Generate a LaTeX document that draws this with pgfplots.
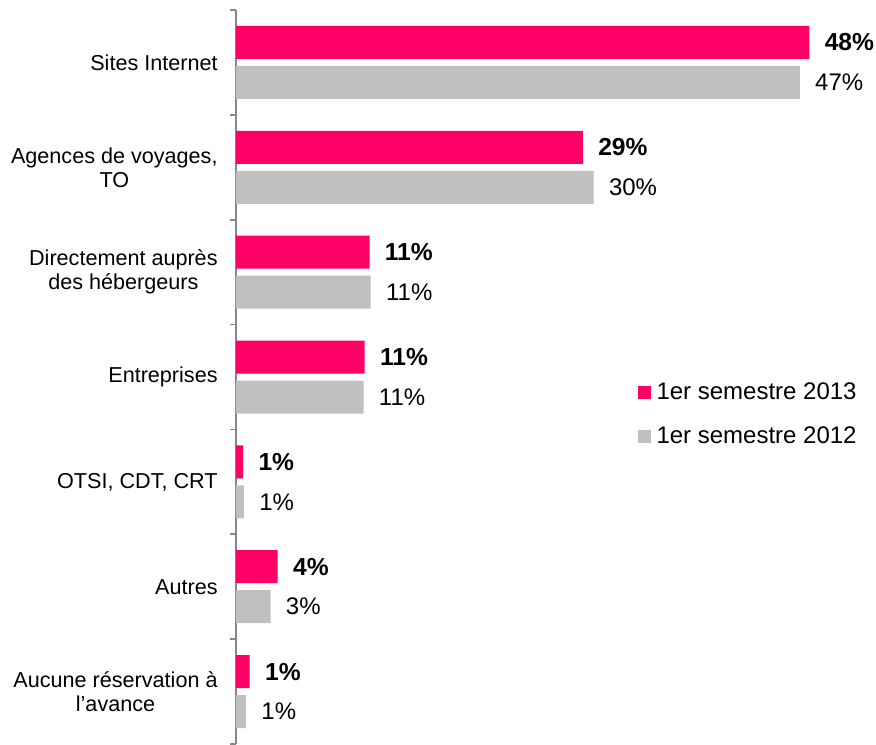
\documentclass[border=0pt]{standalone}
\usepackage{fontspec}
\setmainfont{Liberation Sans}
\usepackage{pgfplots}
\pgfplotsset{compat=1.18}
\definecolor{pinkbar}{HTML}{FF0066}
\definecolor{graybar}{HTML}{C0C0C0}
\definecolor{axisgray}{HTML}{868686}

\begin{document}
\begin{tikzpicture}
\begin{axis}[
  scale only axis, width=298pt, height=367pt,
  xbar, bar width=16.5pt,
  xmin=0, xmax=50, ymin=0.5, ymax=7.5,
  clip=false,
  hide x axis,
  axis y line*=left,
  y axis line style={axisgray, line width=0.8pt},
  ytick={1,...,7},
  yticklabels={{Aucune réservation à\\l\char39avance}, Autres, {OTSI, CDT, CRT}, Entreprises,
    {Directement auprès\\des hébergeurs}, {Agences de voyages,\\TO}, Sites Internet},
  yticklabel style={align=center, font=\fontsize{10.8}{12}\selectfont, inner sep=0pt, xshift=-9pt},
  major tick length=0pt,
  minor ytick={0.5,1.5,...,7.5},
  minor tick length=3pt,
  tick align=outside,
  minor tick style={axisgray, line width=0.8pt},
  point meta=explicit symbolic,
  nodes near coords,
  every node near coord/.append style={anchor=west, inner sep=0pt, xshift=7.5pt, text=black},
  legend cell align=left,
  legend image code/.code={\fill[#1] (0pt,-3.25pt) rectangle (6.5pt,3.25pt); \path (7.5pt,0pt);},
  legend style={at={(rel axis cs:0.673,0.498)}, anchor=north west, draw=none, fill=none,
    font=\fontsize{12}{14}\selectfont, row sep=8pt, inner sep=0pt},
]
\addplot[fill=pinkbar, draw=none, bar shift=10pt,
  every node near coord/.append style={font=\fontsize{12.3}{14}\selectfont\bfseries}]
  coordinates {(48.1,7) [48\%] (29.1,6) [29\%] (11.2,5) [11\%] (10.8,4) [11\%]
               (0.6,3) [1\%] (3.5,2) [4\%] (1.15,1) [1\%]};
\addlegendentry{1er semestre 2013}
\addplot[fill=graybar, draw=none, bar shift=-10pt,
  every node near coord/.append style={font=\fontsize{12}{14}\selectfont}]
  coordinates {(47.3,7) [47\%] (30.0,6) [30\%] (11.3,5) [11\%] (10.7,4) [11\%]
               (0.67,3) [1\%] (2.9,2) [3\%] (0.84,1) [1\%]};
\addlegendentry{1er semestre 2012}
\end{axis}
\pgfresetboundingbox
\path[use as bounding box] ([xshift=-118pt]current axis.south west) rectangle ([xshift=320pt,yshift=372pt]current axis.south west);
\end{tikzpicture}
\end{document}
